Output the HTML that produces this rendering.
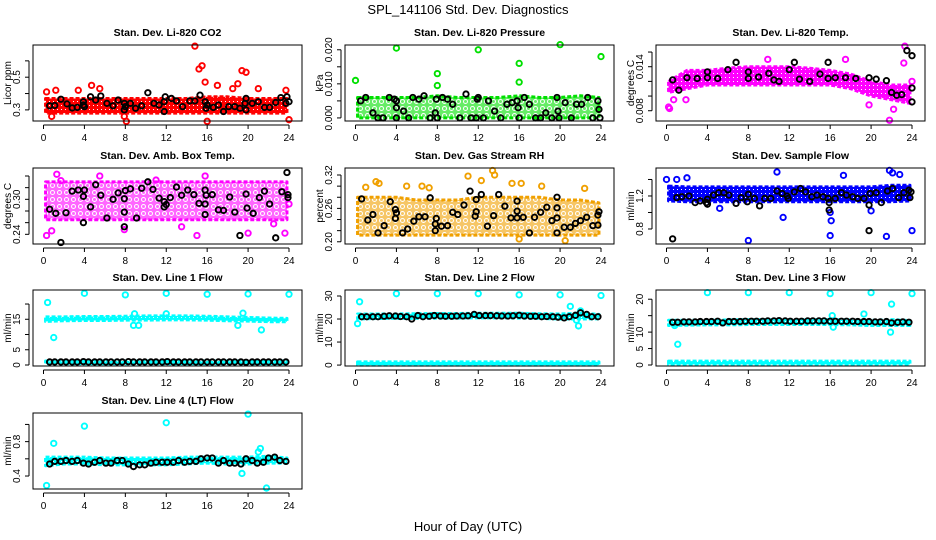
<!DOCTYPE html>
<html><head><meta charset="utf-8">
<style>
body{margin:0;background:#fff;}
svg{display:block;font-family:"Liberation Sans",sans-serif;}
</style></head>
<body>
<svg id="chart" width="936" height="540" viewBox="0 0 936 540" xmlns="http://www.w3.org/2000/svg">
<rect width="936" height="540" fill="#fff"/>
<text x="468" y="14" text-anchor="middle" font-size="13">SPL_141106  Std. Dev. Diagnostics</text>
<text x="468" y="531" text-anchor="middle" font-size="13">Hour of Day (UTC)</text>
<g id="panels"></g>
</svg>
<script>
const xTicks=[0,4,8,12,16,20,24];
const bandHours=[0.2,2,4,6,8,10,12,14,16,18,20,22,23.8];
const blkHours=[0.6,1.1,1.7,2.2,2.8,3.3,3.9,4.4,5.0,5.5,6.1,6.6,7.2,7.7,8.3,8.8,9.4,9.9,10.5,11.0,11.6,12.1,12.7,13.2,13.8,14.3,14.9,15.4,16.0,16.5,17.1,17.6,18.2,18.7,19.3,19.8,20.4,20.9,21.5,22.0,22.6,23.1,23.7];

// CO2
const co2Lo=[0.28,0.28,0.28,0.28,0.28,0.28,0.28,0.28,0.28,0.28,0.28,0.28,0.28];
const co2Hi=[0.37,0.37,0.37,0.37,0.37,0.37,0.37,0.37,0.38,0.38,0.37,0.37,0.37];
const co2OutX=[0.3,1.2,3.4,4.7,5.5,8.1,14.8,15.2,15.5,15.8,16.0,17.0,18.5,19.0,19.4,19.8,21.0,23.7,24.0,0.8,7.9];
const co2OutY=[0.41,0.42,0.42,0.45,0.43,0.23,0.69,0.55,0.57,0.47,0.23,0.45,0.43,0.46,0.54,0.53,0.43,0.42,0.24,0.26,0.26];
const co2BlkX=[0.6,1.1,1.7,2.3,2.8,3.3,3.9,3.9,4,4.6,5.1,5.6,6.2,6.8,7.3,7.9,7.9,8,8.5,9,9.6,10.2,10.8,11.3,11.8,11.8,11.9,12.5,13,13.6,14.3,14.8,15.3,15.8,15.9,16,16.6,17.1,17.6,18.1,18.7,19.2,19.7,19.8,19.8,20.4,21,21.6,22.1,22.7,23.2,23.7,23.8,24];
const co2BlkY=[.325,.327,.365,.337,.312,.315,.35,.33,.32,.38,.36,.385,.34,.325,.36,.34,.30,.32,.34,.31,.325,.405,.34,.33,.35,.29,.38,.37,.355,.32,.355,.355,.39,.35,.31,.33,.315,.33,.29,.32,.32,.31,.34,.30,.37,.34,.35,.315,.315,.345,.375,.34,.38,.35];

// Pressure
const presLo=[0,0,0,0,0,0,0,0,0,0,0,0,0];
const presHi=[0.006,0.006,0.006,0.006,0.0065,0.006,0.006,0.006,0.0065,0.006,0.006,0.0065,0.006];
const presOutX=[0,4,8,8,12,16,16,20,24];
const presOutY=[0.011,0.0205,0.013,0.0095,0.020,0.016,0.0105,0.0215,0.018];
const presBlkX=[0.5,1,1.7,2.2,2.7,3.3,3.8,4,4,4,4.7,5.2,5.6,6.2,6.7,7.3,7.8,7.9,8,8.5,9,9.5,10.2,10.8,11.3,11.8,11.9,12,12.5,13,13.6,14.2,14.8,15.3,15.8,15.9,16,16.5,17,17.6,18.1,18.6,19.2,19.7,19.8,19.9,20.5,21.1,21.6,22.1,22.7,23.2,23.7,23.8,23.9];
const presBlkY=[.005,.006,.0015,0,0,.006,.0055,.003,0,.005,.002,0,.006,.0055,.0065,0,.0015,.0055,0,.006,.0055,.004,0,.007,0,0,.0055,.006,0,.005,.002,0,.004,.0045,.005,.003,0,.006,.004,0,0,.0015,0,.006,.002,0,.0045,0,.004,.004,.006,0,.005,.0025,0];

// Li-820 Temp
const tempLo=[0.0105,0.011,0.0115,0.0115,0.0115,0.0115,0.0115,0.0115,0.0115,0.011,0.010,0.0095,0.009];
const tempHi=[0.012,0.0135,0.0135,0.0138,0.014,0.014,0.014,0.0138,0.0135,0.013,0.012,0.0115,0.0115];
const tempOutX=[0.2,0.3,0.7,1.9,9.9,17.5,19.8,21.8,22.2,23.3,23.2,24];
const tempOutY=[0.0085,0.0083,0.0095,0.0095,0.015,0.015,0.0088,0.0067,0.0082,0.0168,0.0145,0.012];
const tempBlkX=[0.6,1.2,2,3,4,4,5,6,6.8,8,8,9,10,10.5,11,12,12.5,13,14,15,15.8,15.8,16.5,17.5,18.5,19.8,20.5,21.5,22,22.5,23,23.5,24,24,24];
const tempBlkY=[.0122,.0108,.0125,.0124,.0133,.0125,.0124,.0136,.0146,.0133,.0124,.0126,.0131,.0122,.0120,.0136,.0146,.0123,.0120,.0130,.0146,.0124,.0125,.0125,.0124,.0125,.0123,.0121,.0105,.0101,.0102,.0162,.0155,.0111,.0092];

// Amb box temp
const ambLo=[0.265,0.265,0.265,0.265,0.265,0.265,0.265,0.265,0.265,0.265,0.265,0.265,0.265];
const ambHi=[0.33,0.33,0.33,0.33,0.33,0.33,0.33,0.33,0.33,0.33,0.33,0.33,0.33];
const ambOutX=[0.3,0.8,1.3,1.7,5.5,11,15.8,15,20,13.5,23.6,22.5,7.9,24];
const ambOutY=[0.238,0.246,0.343,0.332,0.340,0.333,0.340,0.238,0.242,0.253,0.242,0.258,0.248,0.292];
const ambBlkX=[0.6,1.2,2.2,2.8,3.4,3.9,3.9,4,4.6,5.1,5.6,6.2,6.8,7.3,7.9,7.9,7.9,8,8.5,9.1,9.6,10.2,10.7,11.3,11.8,11.8,12,12.4,13,13.5,14.1,14.7,15.2,15.8,15.8,15.8,15.9,16.5,17.1,17.6,18.2,18.7,19.2,19.8,19.9,20.5,21.1,21.6,22.1,22.7,23.3,23.8,23.9,23.9,1.7];
const ambBlkY=[.283,.276,.277,.314,.316,.260,.305,.316,.287,.325,.307,.268,.300,.311,.301,.278,.253,.315,.318,.268,.319,.330,.317,.302,.296,.287,.291,.303,.321,.307,.316,.308,.293,.274,.292,.316,.307,.308,.282,.281,.304,.278,.238,.309,.285,.276,.303,.314,.292,.234,.313,.346,.308,.303,.226];

// Gas stream RH
const rhLo=[0.212,0.212,0.212,0.212,0.212,0.212,0.212,0.212,0.212,0.212,0.212,0.212,0.212];
const rhHi=[0.28,0.28,0.28,0.275,0.275,0.275,0.28,0.28,0.28,0.28,0.275,0.275,0.27];
const rhOutX=[2,2.3,5,6.5,11,12.3,13.4,13.6,15.3,16.2,18.2,16,20.5,22.4,1,7.2];
const rhOutY=[0.308,0.305,0.30,0.30,0.318,0.31,0.328,0.32,0.305,0.305,0.30,0.205,0.202,0.296,0.298,0.297];
const rhBlkX=[0.6,1.2,1.7,2.2,2.8,3.4,3.9,3.9,4,4.6,5.1,5.7,6.2,6.8,7.3,7.8,7.8,7.9,8.4,9,9.5,10,10.6,11.2,11.7,11.8,11.8,12.3,12.9,13.5,14,14.6,15.2,15.8,15.8,15.8,16.4,17,17.5,18.1,18.7,19.2,19.7,19.7,19.7,19.7,20.4,21,21.5,22,22.6,23.2,23.7,23.7,23.8];
const rhBlkY=[.277,.239,.249,.216,.229,.272,.258,.242,.252,.216,.223,.237,.245,.245,.279,.220,.232,.242,.228,.229,.253,.249,.266,.291,.246,.254,.276,.285,.228,.247,.285,.264,.243,.243,.255,.273,.244,.216,.244,.253,.262,.238,.216,.243,.261,.280,.226,.226,.233,.238,.244,.229,.230,.248,.254];

// Sample flow
const flowLo=[1.14,1.13,1.13,1.13,1.13,1.13,1.13,1.13,1.13,1.13,1.13,1.13,1.14];
const flowHi=[1.32,1.31,1.31,1.31,1.31,1.31,1.31,1.31,1.31,1.31,1.31,1.33,1.33];
const flowOutX=[8,16,21.5,24,16.1,11.4,10.8,17.3,21.8,22.1,22.8,0,1,2,16,20,5.2];
const flowOutY=[0.66,0.72,0.71,0.78,0.90,0.94,1.49,1.45,1.51,1.48,1.46,1.40,1.40,1.42,1.0,1.02,1.05];
const flowBlkX=[0.6,1,1.5,2.2,2.8,3.3,3.9,4,4,4.6,5.1,5.6,6.1,6.8,7.3,7.9,8,8.6,9.1,9.6,10.2,10.8,11.3,11.8,11.9,12.5,13.1,13.6,14.2,14.7,15.3,15.8,15.9,15.9,16.5,17.1,17.6,18.2,18.7,19.3,19.8,19.8,19.9,20.5,21,21.6,22.1,22.7,23.2,23.7,23.8,23.9];
const flowBlkY=[0.68,1.18,1.19,1.20,1.12,1.14,1.12,1.10,1.16,1.21,1.24,1.24,1.21,1.11,1.18,1.13,1.22,1.17,1.08,1.17,1.17,1.26,1.23,1.20,1.17,1.25,1.29,1.25,1.19,1.21,1.19,1.17,1.12,1.03,1.17,1.24,1.21,1.19,1.17,1.17,1.09,0.78,1.23,1.24,1.12,1.26,1.29,1.18,1.24,1.27,1.18,1.25];

// Line 1 flow
const l1Lo=[14.3,14.5,14.6,14.6,14.7,14.7,14.8,14.8,14.7,14.5,14.4,14.2,14.2];
const l1Hi=[15.8,15.8,15.9,15.9,16.0,16.1,16.1,16.1,16.0,15.8,15.6,15.4,15.3];
const l1Lo2=[0.4,0.4,0.4,0.4,0.4,0.4,0.4,0.4,0.4,0.4,0.4,0.4,0.4];
const l1Hi2=[1.3,1.3,1.3,1.3,1.3,1.3,1.3,1.3,1.3,1.3,1.3,1.3,1.3];
const l1OutX=[4,8,12,16,20,24,0.4,1,8.8,9.3,19,21.3,8.9,19.5,12];
const l1OutY=[23.5,23,23.5,23.2,23.3,23.2,20.5,9,13,13,13,11.5,16.8,17,16.8];
const l1BlkY=[1,1,1,1,1,1,1.1,1,1,1,1,1,1,1,1.1,1,1,1,1,1,1,1.1,1,1,1,1,1,1,1,1,1,1,1,1,1,0.9,1,1,1,1,1,1,1];

// Line 2 flow
const l2Lo=[20,20.2,20.3,20.3,20.4,20.4,20.5,20.5,20.4,20.3,20.0,20.0,20.1];
const l2Hi=[22.2,22.2,22.2,22.3,22.4,22.4,22.5,22.5,22.5,22.3,22.2,22.6,22.0];
const l2Lo2=[0,0,0,0,0,0,0,0,0,0,0,0,0];
const l2Hi2=[1.4,1.4,1.4,1.4,1.4,1.4,1.4,1.4,1.4,1.4,1.4,1.4,1.4];
const l2OutX=[0.4,4,8,12,16,20,24,0.2,21,21.8,21.6,22];
const l2OutY=[27.5,31,31,31,30.5,30.5,30.2,18,25.5,17,19.5,23.5];
const l2BlkY=[21,21,21,21,21.2,21.4,21.3,21.1,21,20,21.5,21,21.2,21.5,21.3,21.2,21.2,21.3,21.3,21.4,22,21.5,21.5,21.5,21.4,21.3,21.3,21.4,21.6,21.3,21.2,21.2,21,21.1,21,20.8,20.5,21,21.6,22.7,22,21,21];

// Line 3 flow
const l3Lo=[12,12.1,12.2,12.2,12.3,12.3,12.3,12.3,12.3,12.2,12.0,12.0,12.0];
const l3Hi=[13.6,13.6,13.7,13.7,13.8,13.8,13.8,13.8,13.8,13.7,13.6,13.8,13.5];
const l3Lo2=[0.2,0.2,0.2,0.2,0.2,0.2,0.2,0.2,0.2,0.2,0.2,0.2,0.2];
const l3Hi2=[1.2,1.2,1.2,1.2,1.2,1.2,1.2,1.2,1.2,1.2,1.2,1.2,1.2];
const l3OutX=[1.1,4,8,12,16,20,24,16.2,22,21.9,19.3,16.3,0.8];
const l3OutY=[6.3,22,22,22,21.7,22,21.7,15,18.5,10,15.5,11.5,12];
const l3BlkY=[13,13,13.1,13.1,13.1,13.2,13.2,13.2,13.3,12.8,13.2,13.2,13.2,13.3,13.3,13.3,13.3,13.4,13.4,13.5,13.4,13.3,13.3,13.3,13.4,13.4,13.4,13.4,13.3,13.3,13.3,13.3,13.3,13.2,13.2,13.2,13.1,13.1,13.2,12.8,13,13.1,13];

// Line 4 flow
const l4Lo=[0.52,0.54,0.54,0.53,0.53,0.53,0.53,0.54,0.55,0.54,0.54,0.55,0.55];
const l4Hi=[0.62,0.62,0.62,0.61,0.61,0.61,0.61,0.62,0.62,0.62,0.62,0.63,0.61];
const l4OutX=[0.3,1,4,12,20,21.8,19.4,21.2,21];
const l4OutY=[0.29,0.78,0.98,1.02,1.12,0.26,0.43,0.72,0.68];
const l4BlkY=[0.54,0.57,0.57,0.58,0.57,0.58,0.55,0.54,0.56,0.58,0.55,0.55,0.58,0.58,0.54,0.51,0.53,0.53,0.55,0.56,0.56,0.56,0.56,0.58,0.56,0.57,0.57,0.6,0.61,0.61,0.55,0.58,0.55,0.55,0.54,0.6,0.58,0.55,0.56,0.61,0.62,0.58,0.57];

const panels=[
 {name:'co2',title:'Stan. Dev. Li-820 CO2',ylab:'Licor ppm',col:0,row:0,ymin:0.232,ymax:0.697,ticks:[0.3,0.4,0.5,0.6],labs:['0.3','0.5'],color:'#ff0000',bands:[[co2Lo,co2Hi]],ox:co2OutX,oy:co2OutY,bx:co2BlkX,by:co2BlkY,sparse:false},
 {name:'pressure',title:'Stan. Dev. Li-820 Pressure',ylab:'kPa',col:1,row:0,ymin:-0.0009,ymax:0.0214,ticks:[0,0.005,0.01,0.015,0.02],labs:['0.000','0.010','0.020'],color:'#00e000',bands:[[presLo,presHi]],ox:presOutX,oy:presOutY,bx:presBlkX,by:presBlkY,sparse:true},
 {name:'li820-temp',title:'Stan. Dev. Li-820 Temp.',ylab:'degrees C',col:2,row:0,ymin:0.0066,ymax:0.01696,ticks:[0.008,0.01,0.012,0.014,0.016],labs:['0.008','0.014'],color:'#ff00ff',bands:[[tempLo,tempHi]],ox:tempOutX,oy:tempOutY,bx:tempBlkX,by:tempBlkY,sparse:false},
 {name:'amb-box-temp',title:'Stan. Dev. Amb. Box Temp.',ylab:'degrees C',col:0,row:1,ymin:0.2234,ymax:0.3537,ticks:[0.24,0.26,0.28,0.30,0.32,0.34],labs:['0.24','0.30'],color:'#ff00ff',bands:[[ambLo,ambHi]],ox:ambOutX,oy:ambOutY,bx:ambBlkX,by:ambBlkY,sparse:true},
 {name:'gas-stream-rh',title:'Stan. Dev. Gas Stream RH',ylab:'percent',col:1,row:1,ymin:0.196,ymax:0.3326,ticks:[0.20,0.22,0.24,0.26,0.28,0.30,0.32],labs:['0.20','0.26','0.32'],color:'#f0a000',bands:[[rhLo,rhHi]],ox:rhOutX,oy:rhOutY,bx:rhBlkX,by:rhBlkY,sparse:true},
 {name:'sample-flow',title:'Stan. Dev. Sample Flow',ylab:'ml/min',col:2,row:1,ymin:0.618,ymax:1.539,ticks:[0.8,1.0,1.2,1.4],labs:['0.8','1.2'],color:'#0000ff',bands:[[flowLo,flowHi]],ox:flowOutX,oy:flowOutY,bx:flowBlkX,by:flowBlkY,sparse:false},
 {name:'line1-flow',title:'Stan. Dev. Line 1 Flow',ylab:'ml/min',col:0,row:2,ymin:-0.33,ymax:24.6,ticks:[0,5,10,15,20],labs:['0','5','15'],color:'#00ffff',bands:[[l1Lo,l1Hi],[l1Lo2,l1Hi2]],ox:l1OutX,oy:l1OutY,bx:blkHours,by:l1BlkY,sparse:false},
 {name:'line2-flow',title:'Stan. Dev. Line 2 Flow',ylab:'ml/min',col:1,row:2,ymin:-0.4,ymax:32.6,ticks:[0,10,20,30],labs:['0','10','20','30'],color:'#00ffff',bands:[[l2Lo,l2Hi],[l2Lo2,l2Hi2]],ox:l2OutX,oy:l2OutY,bx:blkHours,by:l2BlkY,sparse:false},
 {name:'line3-flow',title:'Stan. Dev. Line 3 Flow',ylab:'ml/min',col:2,row:2,ymin:-0.3,ymax:22.8,ticks:[0,5,10,15,20],labs:['0','5','10','20'],color:'#00ffff',bands:[[l3Lo,l3Hi],[l3Lo2,l3Hi2]],ox:l3OutX,oy:l3OutY,bx:blkHours,by:l3BlkY,sparse:false},
 {name:'line4-flow',title:'Stan. Dev. Line 4 (LT) Flow',ylab:'ml/min',col:0,row:3,ymin:0.249,ymax:1.133,ticks:[0.4,0.6,0.8,1.0],labs:['0.4','0.8'],color:'#00ffff',bands:[[l4Lo,l4Hi]],ox:l4OutX,oy:l4OutY,bx:blkHours,by:l4BlkY,sparse:false}
];

const NS='http://www.w3.org/2000/svg';
const colLeft=[33,345,656], rowTop=[45,168,290,413], W=269, H=76;
const root=document.getElementById('panels');
const svg=document.getElementById('chart');
const defs=document.createElementNS(NS,'defs');
svg.insertBefore(defs,svg.firstChild);
function mk(tag,attrs,parent){const e=document.createElementNS(NS,tag);for(const k in attrs)e.setAttribute(k,attrs[k]);parent.appendChild(e);return e;}

panels.forEach((p,pi)=>{
  const L=colLeft[p.col], T=rowTop[p.row];
  const xs=h=>L+10.5+h*(245.5/24);
  const ys=v=>T+H-(v-p.ymin)/(p.ymax-p.ymin)*H;
  const g=mk('g',{},root);
  
  
  const pid='pat'+pi;
  const pat=mk('pattern',{id:pid,width:p.sparse?7:4,height:p.sparse?7:4,patternUnits:'userSpaceOnUse'},defs);
  if(p.sparse){
    mk('rect',{width:7,height:7,fill:p.color,'fill-opacity':0.6},pat);
    mk('circle',{cx:3.5,cy:3.5,r:2,fill:'none',stroke:'#fff','stroke-width':1},pat);
  } else {
    mk('rect',{width:4,height:4,fill:p.color},pat);
    mk('rect',{x:1,y:1,width:1,height:1,fill:'#fff'},pat);
  }
  const t=mk('text',{x:L+W/2,y:T-9,'text-anchor':'middle','font-size':10.5,'font-weight':'bold'},g);
  t.textContent=p.title;
  
  
  p.bands.forEach((b,bi)=>{
    let pts=[];
    bandHours.forEach((h,i)=>pts.push(xs(h)+','+ys(b[1][i])));
    for(let i=bandHours.length-1;i>=0;i--)pts.push(xs(bandHours[i])+','+ys(b[0][i]));
    const poly=mk('polygon',{points:pts.join(' '),fill:'url(#'+pid+')',stroke:p.color,'stroke-width':3,'stroke-dasharray':'4,2','stroke-linejoin':'round'},g);
    
    
  });
  p.ox.forEach((h,i)=>{
    const c=mk('circle',{cx:xs(h),cy:ys(p.oy[i]),r:2.7,fill:'none',stroke:p.color,'stroke-width':1.9},g);
    
    
  });
  p.bx.forEach((h,i)=>{
    const c=mk('circle',{cx:xs(h),cy:ys(p.by[i]),r:2.7,fill:'none',stroke:'#000','stroke-width':1.9},g);
    
    
  });
  const box=mk('rect',{x:L,y:T,width:W,height:H,fill:'none',stroke:'#000','stroke-width':1},g);
  
  
  mk('line',{x1:xs(0),x2:xs(24),y1:T+H+4,y2:T+H+4,stroke:'#000'},g);
  xTicks.forEach(v=>{
    mk('line',{x1:xs(v),x2:xs(v),y1:T+H+4,y2:T+H+8,stroke:'#000'},g);
    const tl=mk('text',{x:xs(v),y:T+H+20,'text-anchor':'middle','font-size':10},g);
    tl.textContent=v;
    
    
  });
  const ax=L-4;
  mk('line',{x1:ax,x2:ax,y1:ys(p.ticks[0]),y2:ys(p.ticks[p.ticks.length-1]),stroke:'#000'},g);
  p.ticks.forEach(v=>{
    mk('line',{x1:ax-4,x2:ax,y1:ys(v),y2:ys(v),stroke:'#000'},g);
  });
  p.labs.forEach(s=>{
    const v=parseFloat(s);
    const yl=mk('text',{x:0,y:0,'text-anchor':'middle','font-size':10,transform:'translate('+(ax-9)+','+ys(v)+') rotate(-90)'},g);
    yl.textContent=s;
    
    
  });
  const yt=mk('text',{x:0,y:0,'text-anchor':'middle','font-size':10,transform:'translate('+(L-22)+','+(T+H/2)+') rotate(-90)'},g);
  yt.textContent=p.ylab;
  
  
});
</script>
</body></html>
